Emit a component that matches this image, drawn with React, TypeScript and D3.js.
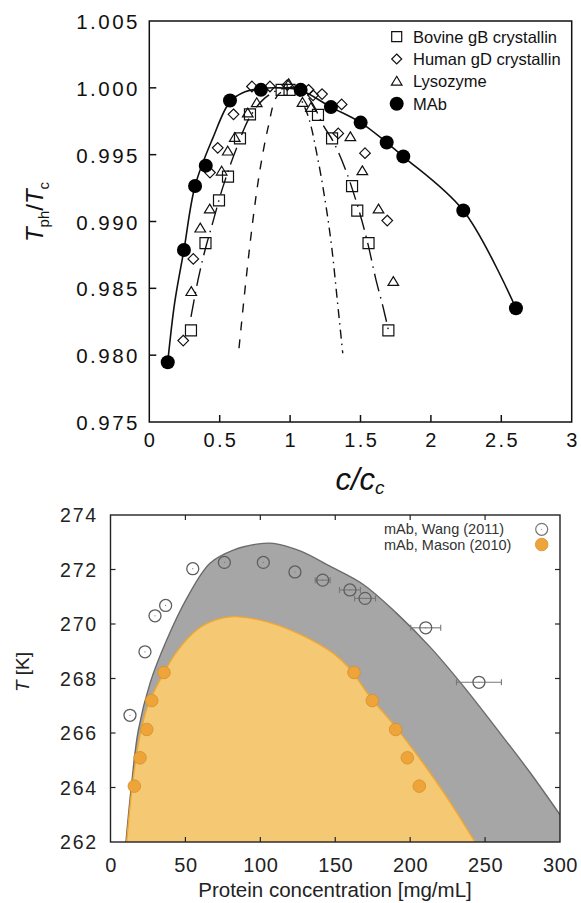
import React from 'react';
import * as d3 from 'd3';

// ---------- Top chart data ----------
const bovineX = [0.296, 0.399, 0.495, 0.559, 0.644, 0.715, 0.94, 0.996, 1.198, 1.298, 1.44, 1.477, 1.557, 1.698];
const bovineY = [0.98185, 0.98838, 0.99158, 0.99336, 0.99622, 0.99802, 0.99985, 0.99985, 0.99798, 0.99622, 0.99264, 0.99082, 0.98838, 0.98185];

const humanX = [0.241, 0.3125, 0.431, 0.486, 0.598, 0.729, 0.857, 0.98, 1.131, 1.163, 1.227, 1.366, 1.342, 1.532, 1.69];
const humanY = [0.98109, 0.9872, 0.99366, 0.99551, 0.99802, 1.0001, 1.0001, 1.0002, 0.99985, 0.99944, 0.99953, 0.99876, 0.99659, 0.99511, 0.99007];

const lysoX = [0.298, 0.362, 0.429, 0.514, 0.557, 0.607, 0.699, 0.763, 0.99, 1.088, 1.148, 1.428, 1.513, 1.628, 1.733];
const lysoY = [0.98475, 0.9895, 0.99093, 0.99376, 0.99526, 0.99628, 0.99811, 0.99888, 1.0003, 0.9989, 0.99852, 0.99633, 0.99379, 0.99093, 0.9855];

const mabX = [0.131, 0.246, 0.325, 0.401, 0.573, 0.793, 1.075, 1.29, 1.501, 1.686, 1.804, 2.23, 2.604];
const mabY = [0.97947, 0.98787, 0.99266, 0.99418, 0.99905, 0.99985, 0.99985, 0.99856, 0.9974, 0.99591, 0.99486, 0.99082, 0.98351];

// fitted / model curves
const fitMabX = [0.131, 0.18, 0.246, 0.325, 0.452, 0.573, 0.68, 0.8, 0.928, 1.075, 1.29, 1.501, 1.686, 1.804, 2.23, 2.604];
const fitMabY = [0.97947, 0.98391, 0.98787, 0.99266, 0.99626, 0.99895, 0.9997, 0.99996, 1.0, 0.99982, 0.99856, 0.9974, 0.99591, 0.99486, 0.99082, 0.98351];

const fitBovineX = [0.296, 0.346, 0.396, 0.452, 0.523, 0.623, 0.715, 0.822, 0.943, 1.07, 1.16, 1.233, 1.304, 1.389, 1.475, 1.546, 1.61, 1.66, 1.698];
const fitBovineY = [0.98286, 0.98563, 0.98787, 0.98997, 0.99259, 0.99558, 0.99783, 0.99925, 0.99993, 0.9999, 0.9988, 0.99723, 0.99603, 0.99401, 0.99132, 0.98862, 0.98563, 0.98361, 0.98189];

const innerLeftX = [0.637, 0.692, 0.739, 0.786, 0.845, 0.905, 0.985];
const innerLeftY = [0.98052, 0.98613, 0.99037, 0.99386, 0.9971, 0.99935, 1.0];

const innerRightX = [1.042, 1.129, 1.189, 1.248, 1.295, 1.335, 1.374];
const innerRightY = [0.99993, 0.99785, 0.99511, 0.99162, 0.98812, 0.98413, 0.98014];

const topXTicks = [0, 0.5, 1, 1.5, 2, 2.5, 3];
const topXTickLabels = ['0', '0.5', '1', '1.5', '2', '2.5', '3'];
const topYTicks = [0.975, 0.98, 0.985, 0.99, 0.995, 1.0, 1.005];
const topYTickLabels = ['0.975', '0.980', '0.985', '0.990', '0.995', '1.000', '1.005'];
const topLegend = ['Bovine gB crystallin', 'Human gD crystallin', 'Lysozyme', 'MAb'];

// ---------- Bottom chart data ----------
const wangC = [13.0, 23.0, 29.7, 36.8, 54.9, 76.0, 102.0, 123.1, 141.6, 159.8, 169.9, 210.4, 245.9];
const wangT = [266.65, 268.98, 270.3, 270.68, 272.03, 272.26, 272.26, 271.91, 271.61, 271.25, 270.94, 269.86, 267.86];
const wangCErr = [0, 0, 0, 0, 0, 0, 0, 0, 5, 7, 7, 10, 15];

const masonC = [15.9, 19.7, 24.2, 27.5, 35.7, 162.5, 174.7, 190.3, 198.1, 206.1];
const masonT = [264.05, 265.09, 266.13, 267.19, 268.22, 268.22, 267.19, 266.13, 265.09, 264.05];

const grayBoundC = [10.3, 14.35, 18.55, 26.4, 37.5, 50.9, 66.4, 82.0, 97.6, 108.7, 126.5, 146.5, 168.7, 191.0, 213.2, 235.5, 257.8, 280.0, 300.0];
const grayBoundT = [262.0, 264.27, 266.1, 267.83, 269.41, 270.94, 272.23, 272.71, 272.93, 272.96, 272.68, 272.12, 271.45, 270.39, 269.16, 267.72, 266.15, 264.55, 263.0];

const orangeBoundC = [10.8, 15.0, 19.7, 25.0, 33.0, 44.2, 57.5, 69.7, 82.0, 104.3, 126.5, 148.7, 159.8, 173.2, 191.0, 208.8, 224.4, 243.3];
const orangeBoundT = [262.0, 264.27, 265.92, 267.02, 267.94, 268.98, 269.78, 270.14, 270.27, 270.08, 269.62, 268.92, 268.35, 267.33, 266.17, 264.88, 263.65, 262.0];

const botXTicks = [0, 50, 100, 150, 200, 250, 300];
const botXTickLabels = ['0', '50', '100', '150', '200', '250', '300'];
const botYTicks = [262, 264, 266, 268, 270, 272, 274];
const botYTickLabels = ['262', '264', '266', '268', '270', '272', '274'];
const botLegend = ['mAb, Wang (2011)', 'mAb, Mason (2010)'];

const FONT = '"Liberation Sans", Arial, Helvetica, sans-serif';

const zip = (xs: number[], ys: number[]) => xs.map((x, i) => [x, ys[i]] as [number, number]);

export default function App() {
  const xT = d3.scaleLinear().domain([0, 3]).range([149.3, 571.7]);
  const yT = d3.scaleLinear().domain([0.975, 1.005]).range([422, 21]);
  const xB = d3.scaleLinear().domain([0, 300]).range([110.5, 560]);
  const yB = d3.scaleLinear().domain([262, 274]).range([842, 515]);

  const lineT = d3
    .line<[number, number]>()
    .x((d) => xT(d[0]))
    .y((d) => yT(d[1]))
    .curve(d3.curveCatmullRom.alpha(0.5));

  const areaB = d3
    .area<[number, number]>()
    .x((d) => xB(d[0]))
    .y0(yB(262) + 2)
    .y1((d) => yB(d[1]))
    .curve(d3.curveCatmullRom.alpha(0.5));
  const lineB = d3
    .line<[number, number]>()
    .x((d) => xB(d[0]))
    .y((d) => yB(d[1]))
    .curve(d3.curveCatmullRom.alpha(0.5));

  const sq = (x: number, y: number, s = 5.5) => `M${x - s},${y - s}h${2 * s}v${2 * s}h${-2 * s}Z`;
  const dia = (x: number, y: number, s = 5.3) => `M${x},${y - s}L${x + s},${y}L${x},${y + s}L${x - s},${y}Z`;
  const tri = (x: number, y: number) => `M${x},${y - 5}L${x + 5.3},${y + 3.8}L${x - 5.3},${y + 3.8}Z`;

  const [tx0, tx1] = xT.range();
  const [ty0, ty1] = [yT(0.975), yT(1.005)];
  const [bx0, bx1] = xB.range();
  const [by0, by1] = [yB(262), yB(274)];

  const legRowY = [36.7, 59, 81.3, 103.7];

  return (
    <svg
      width={581}
      height={903}
      style={{ position: 'absolute', left: 0, top: 0, background: '#fff' }}
      fontFamily={FONT}
    >
      <rect x={0} y={0} width={581} height={903} fill="#fff" />
      {/* ================= TOP CHART ================= */}
      <g>
        <path d={lineT(zip(fitMabX, fitMabY)) || ''} fill="none" stroke="#111" strokeWidth={1.6} />
        <path
          d={lineT(zip(fitBovineX, fitBovineY)) || ''}
          fill="none"
          stroke="#111"
          strokeWidth={1.4}
          strokeDasharray="18,6,1.5,6"
        />
        <path
          d={lineT(zip(innerLeftX, innerLeftY)) || ''}
          fill="none"
          stroke="#111"
          strokeWidth={1.4}
          strokeDasharray="9,9"
        />
        <path
          d={lineT(zip(innerRightX, innerRightY)) || ''}
          fill="none"
          stroke="#111"
          strokeWidth={1.4}
          strokeDasharray="9,5,1.5,5"
        />
        {bovineX.map((x, i) => (
          <path key={'b' + i} d={sq(xT(x), yT(bovineY[i]))} fill="none" stroke="#111" strokeWidth={1.2} />
        ))}
        {humanX.map((x, i) => (
          <path key={'h' + i} d={dia(xT(x), yT(humanY[i]))} fill="none" stroke="#111" strokeWidth={1.2} />
        ))}
        {lysoX.map((x, i) => (
          <path key={'l' + i} d={tri(xT(x), yT(lysoY[i]))} fill="none" stroke="#111" strokeWidth={1.2} />
        ))}
        {mabX.map((x, i) => (
          <circle key={'m' + i} cx={xT(x)} cy={yT(mabY[i])} r={7} fill="#000" />
        ))}
        <rect x={tx0} y={ty1} width={tx1 - tx0} height={ty0 - ty1} fill="none" stroke="#111" strokeWidth={1.5} />
        {topXTicks.map((t, i) => (
          <g key={'xt' + i}>
            {i > 0 && i < topXTicks.length - 1 && (
              <line x1={xT(t)} x2={xT(t)} y1={ty0} y2={ty0 - 7} stroke="#111" strokeWidth={1.5} />
            )}
            <text x={xT(t) + 1.2} y={447} textAnchor="middle" fontSize={20} letterSpacing={2.4} fill="#111">
              {topXTickLabels[i]}
            </text>
          </g>
        ))}
        {topYTicks.map((t, i) => (
          <g key={'yt' + i}>
            {i > 0 && i < topYTicks.length - 1 && (
              <line x1={tx0} x2={tx0 + 7} y1={yT(t)} y2={yT(t)} stroke="#111" strokeWidth={1.5} />
            )}
            <text x={140} y={yT(t) + 8} textAnchor="end" fontSize={20.5} letterSpacing={2.5} fill="#111">
              {topYTickLabels[i]}
            </text>
          </g>
        ))}
        <text transform="translate(43,212) rotate(-90)" textAnchor="middle" fontSize={24} fill="#111">
          <tspan fontStyle="italic">T</tspan>
          <tspan fontSize={15} dy={6}>ph</tspan>
          <tspan dy={-6}>/</tspan>
          <tspan fontStyle="italic">T</tspan>
          <tspan fontSize={15} dy={6}>c</tspan>
        </text>
        <text x={360} y={490} textAnchor="middle" fontSize={31} fontStyle="italic" fill="#111">
          <tspan>c/c</tspan>
          <tspan fontSize={19} dy={4}>c</tspan>
        </text>
        {topLegend.map((lab, i) => {
          const y = legRowY[i];
          const x = 396.7;
          let mk: React.ReactNode = null;
          if (i === 0) mk = <path d={sq(x, y, 5)} fill="none" stroke="#111" strokeWidth={1.2} />;
          if (i === 1) mk = <path d={dia(x, y, 5)} fill="none" stroke="#111" strokeWidth={1.2} />;
          if (i === 2) mk = <path d={tri(x, y)} fill="none" stroke="#111" strokeWidth={1.2} />;
          if (i === 3) mk = <circle cx={x} cy={y} r={7} fill="#000" />;
          return (
            <g key={'lg' + i}>
              {mk}
              <text x={413} y={y + 6} fontSize={16.5} fill="#111">
                {lab}
              </text>
            </g>
          );
        })}
      </g>

      {/* ================= BOTTOM CHART ================= */}
      <defs>
        <clipPath id="botclip">
          <rect x={bx0} y={by1} width={bx1 - bx0} height={by0 - by1} />
        </clipPath>
      </defs>
      <g clipPath="url(#botclip)">
        <path d={areaB(zip(grayBoundC, grayBoundT)) || ''} fill="#a6a6a6" />
        <path d={lineB(zip(grayBoundC, grayBoundT)) || ''} fill="none" stroke="#6b6b6b" strokeWidth={1.4} />
        <path d={areaB(zip(orangeBoundC, orangeBoundT)) || ''} fill="#f5c874" />
        <path d={lineB(zip(orangeBoundC, orangeBoundT)) || ''} fill="none" stroke="#f2a730" strokeWidth={1.4} />
      </g>
      {wangC.map((c, i) =>
        wangCErr[i] > 0 ? (
          <g key={'eb' + i} stroke="#777" strokeWidth={1.1}>
            <line x1={xB(c - wangCErr[i])} x2={xB(c + wangCErr[i])} y1={yB(wangT[i])} y2={yB(wangT[i])} />
            <line x1={xB(c - wangCErr[i])} x2={xB(c - wangCErr[i])} y1={yB(wangT[i]) - 3} y2={yB(wangT[i]) + 3} />
            <line x1={xB(c + wangCErr[i])} x2={xB(c + wangCErr[i])} y1={yB(wangT[i]) - 3} y2={yB(wangT[i]) + 3} />
          </g>
        ) : null
      )}
      {wangC.map((c, i) => (
        <g key={'w' + i}>
          <circle cx={xB(c)} cy={yB(wangT[i])} r={6} fill="none" stroke="#5e5e5e" strokeWidth={1.3} />
          <circle cx={xB(c)} cy={yB(wangT[i])} r={0.6} fill="#777" />
        </g>
      ))}
      {masonC.map((c, i) => (
        <circle key={'ms' + i} cx={xB(c)} cy={yB(masonT[i])} r={6.3} fill="#efa43a" stroke="#d3902c" strokeWidth={0.8} />
      ))}
      <rect x={bx0} y={by1} width={bx1 - bx0} height={by0 - by1} fill="none" stroke="#222" strokeWidth={1.4} />
      {botXTicks.map((t, i) => (
        <g key={'bxt' + i}>
          {i > 0 && i < botXTicks.length - 1 && (
            <>
              <line x1={xB(t)} x2={xB(t)} y1={by0} y2={by0 - 5} stroke="#222" strokeWidth={1.2} />
              <line x1={xB(t)} x2={xB(t)} y1={by1} y2={by1 + 5} stroke="#222" strokeWidth={1.2} />
            </>
          )}
          <text x={xB(t) + 0.5} y={872} textAnchor="middle" fontSize={20} letterSpacing={0.6} fill="#222">
            {botXTickLabels[i]}
          </text>
        </g>
      ))}
      {botYTicks.map((t, i) => (
        <g key={'byt' + i}>
          {i > 0 && i < botYTicks.length - 1 && (
            <>
              <line x1={bx0} x2={bx0 + 5} y1={yB(t)} y2={yB(t)} stroke="#222" strokeWidth={1.2} />
              <line x1={bx1} x2={bx1 - 5} y1={yB(t)} y2={yB(t)} stroke="#222" strokeWidth={1.2} />
            </>
          )}
          <text x={98} y={yB(t) + 7} textAnchor="end" fontSize={19.5} letterSpacing={1.8} fill="#222">
            {botYTickLabels[i]}
          </text>
        </g>
      ))}
      <text transform="translate(29,672) rotate(-90)" textAnchor="middle" fontSize={19} fill="#222">
        <tspan fontStyle="italic">T</tspan>
        <tspan> [K]</tspan>
      </text>
      <text x={335} y={897} textAnchor="middle" fontSize={20.5} fill="#222">
        Protein concentration [mg/mL]
      </text>
      <text x={384} y={534} fontSize={14.5} fill="#333">
        {botLegend[0]}
      </text>
      <text x={384} y={550} fontSize={14.5} fill="#333">
        {botLegend[1]}
      </text>
      <circle cx={541.7} cy={529.3} r={6} fill="none" stroke="#777" strokeWidth={1.2} />
      <circle cx={541.7} cy={529.3} r={0.6} fill="#888" />
      <circle cx={541.7} cy={544.5} r={6.3} fill="#efa43a" stroke="#d3902c" strokeWidth={0.8} />
    </svg>
  );
}
